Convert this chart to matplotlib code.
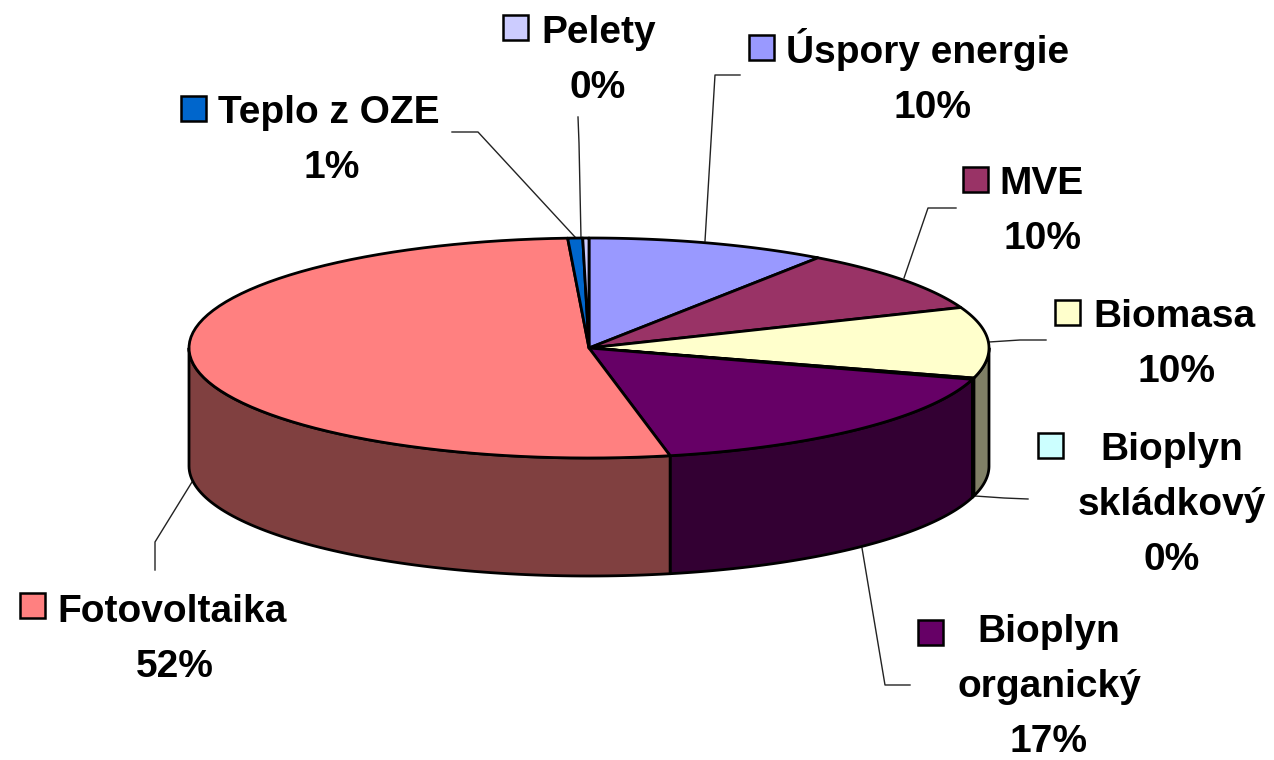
import numpy as np
import matplotlib
matplotlib.use('Agg')
import matplotlib.pyplot as plt
from matplotlib.patches import Polygon, Rectangle

# data, clockwise from the top of the pie
names = ['Úspory energie', 'MVE', 'Biomasa', 'Bioplyn\nskládkový', 'Bioplyn\norganický',
         'Fotovoltaika', 'Teplo z OZE', 'Pelety']
shares = [9.7, 9.3, 10.4, 0.2, 17.15, 52.4, 0.6, 0.25]
percent_labels = ['10%', '10%', '10%', '0%', '17%', '52%', '1%', '0%']
top_colors = ['#9999FF', '#993366', '#FFFFCC', '#CCFFFF', '#660066', '#FF8080', '#0066CC', '#CCCCFF']
side_colors = ['#4C4C80', '#4C1933', '#808066', '#668080', '#330033', '#804040', '#003366', '#666680']

CX, CY = 589, 348
RX, RY = 400, 110
DEPTH = 118
FONT = 28

# legend square (left, top), text centre x, first baseline y
square_pos = [(749, 35), (963, 167), (1055, 300), (1038, 433), (918, 620), (20, 593), (181, 96), (503, 15)]
text_x = [932, 1043, 1176, 1172, 1049, 175, 332, 598]
text_y = [63, 194, 327, 460, 642, 622, 123, 43]
text_left = [786, 999, 1093, None, None, 57, 218, 541]

leaders = [
    [(740, 75), (715, 75), (705, 241)],
    [(956, 208), (928, 208), (904, 278)],
    [(1046, 340), (1020, 340), (989, 342)],
    [(1028, 499), (1004, 498), (975, 496)],
    [(910, 685), (885, 685), (862, 548)],
    [(155, 570), (155, 542), (192, 482)],
    [(452, 132), (478, 132), (575, 237)],
    [(578, 117), (579, 143), (581, 238)],
]


def rim(angle, dy=0):
    """point on the ellipse, angle in degrees clockwise from the top"""
    a = np.radians(angle)
    return np.column_stack((CX + RX * np.sin(a), CY - RY * np.cos(a) + dy))


plt.rcParams['font.family'] = ['Liberation Sans', 'DejaVu Sans']
fig = plt.figure(figsize=(12.74, 7.6), dpi=100)
ax = fig.add_axes([0, 0, 1, 1])
ax.set_xlim(0, 1274)
ax.set_ylim(760, 0)
ax.axis('off')

edges = np.cumsum([0] + shares) * 3.6

# side walls first, only the front half of the pie shows them
for i in range(len(shares)):
    a0 = max(edges[i], 90)
    a1 = min(edges[i + 1], 270)
    if a1 <= a0:
        continue
    t = np.linspace(a0, a1, 80)
    pts = np.vstack((rim(t), rim(t[::-1], DEPTH)))
    ax.add_patch(Polygon(pts, closed=True, fc=side_colors[i], ec='black', lw=2, joinstyle='round', zorder=2))

# top of the pie
for i in range(len(shares)):
    t = np.linspace(edges[i], edges[i + 1], 80)
    pts = np.vstack(([[CX, CY]], rim(t)))
    ax.add_patch(Polygon(pts, closed=True, fc=top_colors[i], ec='black', lw=2, joinstyle='round', zorder=3))

# leader lines
for line in leaders:
    xs, ys = zip(*line)
    ax.plot(xs, ys, color='#222222', lw=1, zorder=1)

# labels
for i, name in enumerate(names):
    sx, sy = square_pos[i]
    ax.add_patch(Rectangle((sx, sy), 25, 25, fc=top_colors[i], ec='black', lw=1.8, zorder=4))
    parts = name.split('\n')
    lines = parts + [percent_labels[i]]
    for j, line in enumerate(lines):
        y = text_y[i] + j * 55
        if j < len(parts) and text_left[i] is not None:
            ax.text(text_left[i], y, line, ha='left', va='baseline', fontsize=FONT, fontweight='bold', zorder=5)
        else:
            ax.text(text_x[i], y, line, ha='center', va='baseline', fontsize=FONT, fontweight='bold', zorder=5)

fig.savefig('out.png', dpi=100, facecolor='white')
